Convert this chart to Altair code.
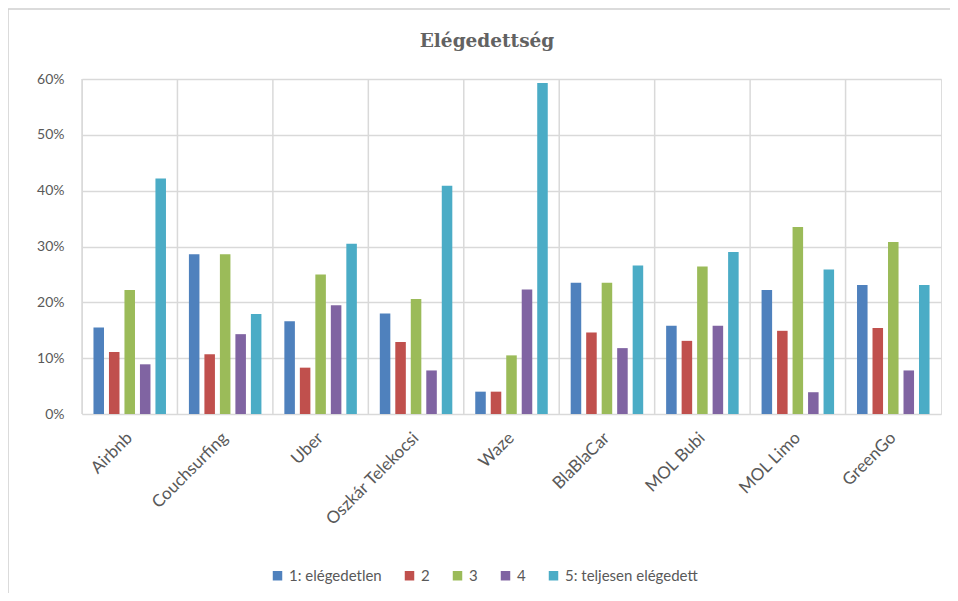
import altair as alt
import pandas as pd

categories = ["Airbnb", "Couchsurfing", "Uber", "Oszkár Telekocsi", "Waze",
              "BlaBlaCar", "MOL Bubi", "MOL Limo", "GreenGo"]
series = ["1: elégedetlen", "2", "3", "4", "5: teljesen elégedett"]
colors = ["#4F81BD", "#C0504D", "#9BBB59", "#8064A2", "#4BACC6"]

s1 = [15.5, 28.6, 16.6, 18.0, 4.0, 23.5, 15.8, 22.2, 23.1]
s2 = [11.1, 10.7, 8.3, 12.9, 4.0, 14.6, 13.1, 14.9, 15.4]
s3 = [22.2, 28.6, 25.0, 20.6, 10.5, 23.5, 26.4, 33.5, 30.8]
s4 = [8.9, 14.3, 19.5, 7.8, 22.3, 11.8, 15.8, 3.9, 7.8]
s5 = [42.2, 17.9, 30.5, 40.9, 59.3, 26.6, 29.0, 25.9, 23.1]
y_ticks = [0, 10, 20, 30, 40, 50, 60]
title_text = "Elégedettség"

rows = []
for name, vals in zip(series, [s1, s2, s3, s4, s5]):
    for c, v in zip(categories, vals):
        rows.append({"cat": c, "series": name, "value": v})
df = pd.DataFrame(rows)
cat_df = pd.DataFrame({"cat": categories})
one = pd.DataFrame({"a": [0]})

FONT = "Lato"
TXT = "#595959"
GRID = "#D9D9D9"

xscale = alt.Scale(domain=categories, paddingInner=0, paddingOuter=0)

bars = alt.Chart(df).mark_bar().encode(
    x=alt.X("cat:N", sort=categories, scale=xscale,
            axis=alt.Axis(title=None, labelAngle=-45, labelAlign="right",
                          labelBaseline="middle", ticks=False, domain=False,
                          grid=False, labelPadding=21, labelFont=FONT,
                          labelFontSize=17, labelColor=TXT)),
    xOffset=alt.XOffset("series:N", sort=series,
                        scale=alt.Scale(domain=series, paddingInner=0.32, paddingOuter=0.74)),
    y=alt.Y("value:Q", scale=alt.Scale(domain=[0, 60]),
            axis=alt.Axis(title=None, values=y_ticks, labelExpr="datum.value + '%'",
                          ticks=False, domain=False, grid=True, gridColor=GRID,
                          gridWidth=1.5, labelPadding=18, labelFont=FONT,
                          labelFontSize=14, labelColor=TXT)),
    color=alt.Color("series:N", sort=series,
                    scale=alt.Scale(domain=series, range=colors),
                    legend=alt.Legend(title=None, orient="none", direction="horizontal",
                                      legendX=188, legendY=489, symbolType="square",
                                      symbolSize=90, symbolStrokeWidth=0,
                                      labelFont=FONT, labelFontSize=15, labelColor=TXT,
                                      labelOffset=4, columnPadding=20, padding=0)),
)

vgrid = alt.Chart(cat_df).mark_rule(color=GRID, strokeWidth=1.5).encode(
    x=alt.X("cat:N", sort=categories, scale=xscale, bandPosition=0)
)

frame = alt.Chart(one).mark_rect(
    fill=None, stroke="#D0D0D0", strokeWidth=1.5
).encode(
    x=alt.value(-74), x2=alt.value(3000), y=alt.value(-70), y2=alt.value(3000)
)

title = alt.Chart(one).mark_text(
    font="DejaVu Serif", fontSize=18.5, fontWeight="bold", color="#626262",
    align="center", baseline="alphabetic"
).encode(
    x=alt.value(405), y=alt.value(-32), text=alt.value(title_text)
)

chart = alt.layer(frame, vgrid, bars, title).properties(
    width=859, height=335,
    autosize=alt.AutoSizeParams(type="none"),
    padding={"left": 74, "top": 71, "right": 9, "bottom": 179},
).configure_view(
    fill="#EEEEEE", stroke=GRID, strokeWidth=1.5
).configure(background="white")

chart.save("out.html", embed_options={"renderer": "svg", "actions": False})
